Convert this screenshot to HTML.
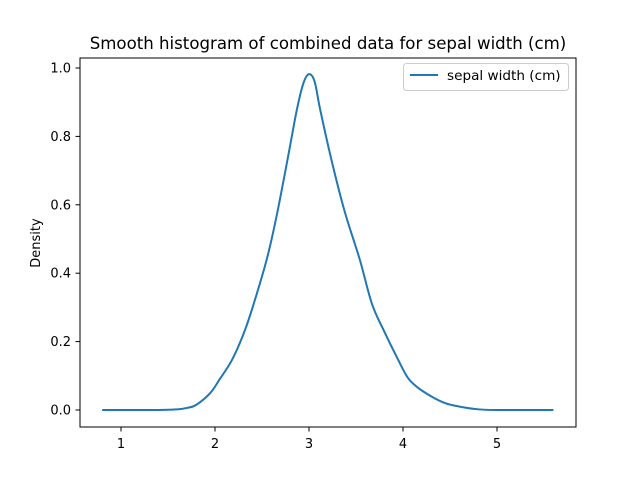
<!DOCTYPE html>
<html><head><meta charset="utf-8"><style>
body{margin:0;background:#fff}
svg{font-family:"DejaVu Sans","Liberation Sans",sans-serif}
</style></head><body>
<svg id="chart" width="640" height="480" viewBox="0 0 640 480">
<rect width="640" height="480" fill="#fff"/>
<text x="328" y="49" text-anchor="middle" font-size="16.6">Smooth histogram of combined data for sepal width (cm)</text>
<g id="xticks"></g>
<g id="yticks"></g>
<text transform="translate(40,243) rotate(-90)" text-anchor="middle" font-size="13">Density</text>
<path id="line" fill="none" stroke="#1f77b4" stroke-width="2"/>
<rect x="80" y="58" width="496" height="369" fill="none" stroke="#000" stroke-width="1"/>
<g>
<rect x="403.5" y="63.5" width="165" height="27" rx="3" fill="#fff" stroke="#ccc"/>
<line x1="410" y1="75" x2="438" y2="75" stroke="#1f77b4" stroke-width="2"/>
<text x="447" y="80" font-size="13.6">sepal width (cm)</text>
</g>
</svg>
<script>
const xs=[0.8,1.4,1.6,1.7,1.8,1.95,2.05,2.18,2.3,2.4,2.55,2.65,2.77,2.87,2.94,3.0,3.06,3.12,3.24,3.38,3.54,3.67,3.8,3.95,4.05,4.15,4.3,4.45,4.6,4.8,5.0,5.6];
const ys=[0,0,0.002,0.006,0.015,0.05,0.09,0.146,0.22,0.3,0.44,0.56,0.73,0.877,0.955,0.982,0.96,0.877,0.73,0.58,0.44,0.31,0.23,0.146,0.095,0.067,0.04,0.02,0.01,0.002,0,0];
const xTicks=[1,2,3,4,5];
const yTicks=[0.0,0.2,0.4,0.6,0.8,1.0];
const X=v=>27+94*v, Y=v=>410-342*v;
const NS='http://www.w3.org/2000/svg';
const xg=document.getElementById('xticks'), yg=document.getElementById('yticks');
xTicks.forEach(t=>{
  const l=document.createElementNS(NS,'line');
  l.setAttribute('x1',X(t));l.setAttribute('x2',X(t));l.setAttribute('y1',427);l.setAttribute('y2',431.5);l.setAttribute('stroke','#000');
  
  
  xg.appendChild(l);
  const tx=document.createElementNS(NS,'text');
  tx.setAttribute('x',X(t));tx.setAttribute('y',448);tx.setAttribute('text-anchor','middle');tx.setAttribute('font-size','13');tx.textContent=t;
  
  
  xg.appendChild(tx);
});
yTicks.forEach(t=>{
  const l=document.createElementNS(NS,'line');
  l.setAttribute('x1',75.5);l.setAttribute('x2',80);l.setAttribute('y1',Y(t));l.setAttribute('y2',Y(t));l.setAttribute('stroke','#000');
  
  
  yg.appendChild(l);
  const tx=document.createElementNS(NS,'text');
  tx.setAttribute('x',71);tx.setAttribute('y',Y(t)+4.5);tx.setAttribute('text-anchor','end');tx.setAttribute('font-size','13');tx.textContent=t.toFixed(1);
  
  
  yg.appendChild(tx);
});
const P=xs.map((x,i)=>[X(x),Y(ys[i])]);
let d='M'+P[0][0]+','+P[0][1];
for(let i=0;i<P.length-1;i++){
  const p0=P[Math.max(0,i-1)],p1=P[i],p2=P[i+1],p3=P[Math.min(P.length-1,i+2)];
  const c1=[p1[0]+(p2[0]-p0[0])/6,p1[1]+(p2[1]-p0[1])/6];
  const c2=[p2[0]-(p3[0]-p1[0])/6,p2[1]-(p3[1]-p1[1])/6];
  d+=` C${c1[0]},${c1[1]} ${c2[0]},${c2[1]} ${p2[0]},${p2[1]}`;
}
document.getElementById('line').setAttribute('d',d);
</script>
</body></html>
